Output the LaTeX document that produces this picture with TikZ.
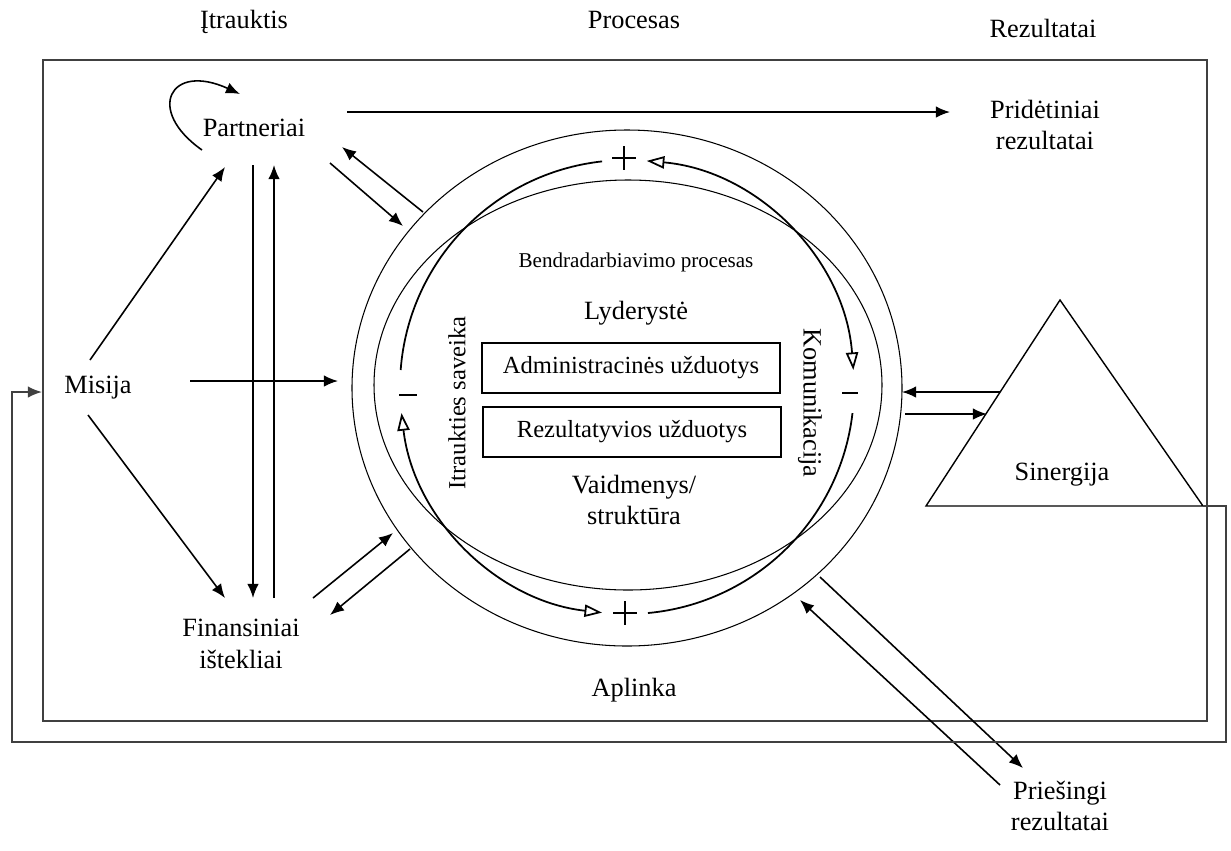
\documentclass[tikz,border=0pt]{standalone}
\usepackage{fontspec}
\setmainfont{Liberation Serif}
\usetikzlibrary{arrows.meta}

\begin{document}
\begin{tikzpicture}[x=0.02cm, y=-0.02cm,
      conn/.style={-{Latex[length=8pt,width=6.5pt]}, line width=0.9pt},
      lbl/.style={font=\fontsize{15}{18}\selectfont, align=center, inner sep=2pt},
      smalllbl/.style={font=\fontsize{12}{14}\selectfont, inner sep=2pt},
      taskbox/.style={draw, line width=0.8pt, minimum width=5.96cm, minimum height=1cm,
        font=\fontsize{14}{16}\selectfont},
      ring/.style={line width=1pt},
      opentip/.style={{Triangle[open,length=10pt,width=7pt]}-{Triangle[open,length=10pt,width=7pt]}},
      frame/.style={draw=black!75, line width=1pt}]
      \useasboundingbox (0,0) rectangle (1231,850);
      % headings
      \node[lbl] (h_in) at (244,22) {Įtrauktis};
      \node[lbl] (h_proc) at (634,20) {Procesas};
      \node[lbl] (h_res) at (1043,28) {Rezultatai};
      % environment frame
      \draw[frame] (43,60) rectangle (1207,721);
      \node[lbl] (aplinka) at (634,690) {Aplinka};
      % process circles
      \coordinate (ctr) at (627,387);
      \draw[line width=0.6pt] (627,388) ellipse [x radius=275, y radius=258];
      \draw[line width=0.6pt] (628,385) ellipse [x radius=254, y radius=205];
      \draw[ring] ([shift={(-175.7:227)}]ctr) arc[start angle=-175.7, end angle=-96.3, radius=227];
      \draw[ring, opentip] ([shift={(-85:227)}]ctr) arc[start angle=-85, end angle=-4.3, radius=227];
      \draw[ring] ([shift={(6.6:227)}]ctr) arc[start angle=6.6, end angle=84.7, radius=227];
      \draw[ring, opentip] ([shift={(96.3:227)}]ctr) arc[start angle=96.3, end angle=173.4, radius=227];
      % plus and minus marks
      \draw[ring] (612,158) -- (636,158) (624,146) -- (624,170);
      \draw[ring] (613,613) -- (637,613) (625,601) -- (625,625);
      \draw[ring] (399,395) -- (417,395);
      \draw[ring] (842,393) -- (858,393);
      % inside the circle
      \node[smalllbl] (procesas) at (636,262) {Bendradarbiavimo procesas};
      \node[lbl] (lyderyste) at (636,313) {Lyderystė};
      \node[taskbox] (admin) at (631,368) {Administracinės užduotys};
      \node[taskbox] (rezult) at (632,432) {Rezultatyvios užduotys};
      \node[lbl] (vaidmenys) at (634,500) {Vaidmenys/\\struktūra};
      \node[lbl, font=\fontsize{14}{16}\selectfont, rotate=90] (saveika) at (457,403) {Itraukties saveika};
      \node[lbl, rotate=-90] (komunikacija) at (810,403) {Komunikacija};
      % inputs
      \node[lbl] (partneriai) at (254,128) {Partneriai};
      \node[lbl] (misija) at (98,388) {Misija};
      \node[lbl] (finansiniai) at (241,644) {Finansiniai\\ištekliai};
      % results
      \node[lbl] (prideti) at (1045,125) {Pridėtiniai\\rezultatai};
      \node[lbl] (priesingi) at (1060,806) {Priešingi\\rezultatai};
      \draw[line width=0.8pt] (1060,300) -- (1203,506) -- (926,506) -- cycle;
      \node[lbl] (sinergija) at (1062,475) {Sinergija};
      % partners loop and outputs
      \coordinate (p_loop) at (202,150);
      \coordinate (p_top) at (240,94);
      \draw[conn] (p_loop) .. controls (145,110) and (170,62) .. (p_top);
      \coordinate (p_right) at (347,112);
      \coordinate (prid_left) at (950,112);
      \draw[conn] (p_right) -- (prid_left);
      % mission
      \coordinate (m_up) at (90,360);
      \coordinate (p_low) at (225,167);
      \draw[conn] (m_up) -- (p_low);
      \coordinate (m_down) at (88,415);
      \coordinate (f_up) at (225,598);
      \draw[conn] (m_down) -- (f_up);
      \coordinate (m_right) at (190,381);
      \coordinate (c_left) at (338,381);
      \draw[conn] (m_right) -- (c_left);
      % partners <-> resources
      \coordinate (p_d1) at (253,165);
      \coordinate (f_d1) at (253,598);
      \draw[conn] (p_d1) -- (f_d1);
      \coordinate (f_u2) at (274,598);
      \coordinate (p_u2) at (274,165);
      \draw[conn] (f_u2) -- (p_u2);
      % inputs <-> process
      \coordinate (c_pa) at (423,212);
      \coordinate (p_in) at (342,147);
      \draw[conn] (c_pa) -- (p_in);
      \coordinate (p_out) at (330,163);
      \coordinate (c_in) at (403,226);
      \draw[conn] (p_out) -- (c_in);
      \coordinate (f_out) at (313,598);
      \coordinate (c_fin) at (393,533);
      \draw[conn] (f_out) -- (c_fin);
      \coordinate (c_fout) at (410,549);
      \coordinate (f_in) at (330,615);
      \draw[conn] (c_fout) -- (f_in);
      % process <-> results
      \coordinate (s_out) at (1000,392);
      \coordinate (c_sin) at (902,392);
      \draw[conn] (s_out) -- (c_sin);
      \coordinate (c_sout) at (905,414);
      \coordinate (s_in) at (987,414);
      \draw[conn] (c_sout) -- (s_in);
      \coordinate (c_neg) at (820,577);
      \coordinate (n_in) at (1023,768);
      \draw[conn] (c_neg) -- (n_in);
      \coordinate (n_out) at (1000,785);
      \coordinate (c_nin) at (800,600);
      \draw[conn] (n_out) -- (c_nin);
      % feedback to mission
      \coordinate (s_corner) at (1203,506);
      \coordinate (m_left) at (42,392);
      \draw[frame, -{Latex[length=8pt,width=6.5pt]}] (s_corner) -- (1226,506) -- (1226,742)
        -- (12,742) -- (12,392) -- (m_left);
\end{tikzpicture}
\end{document}
